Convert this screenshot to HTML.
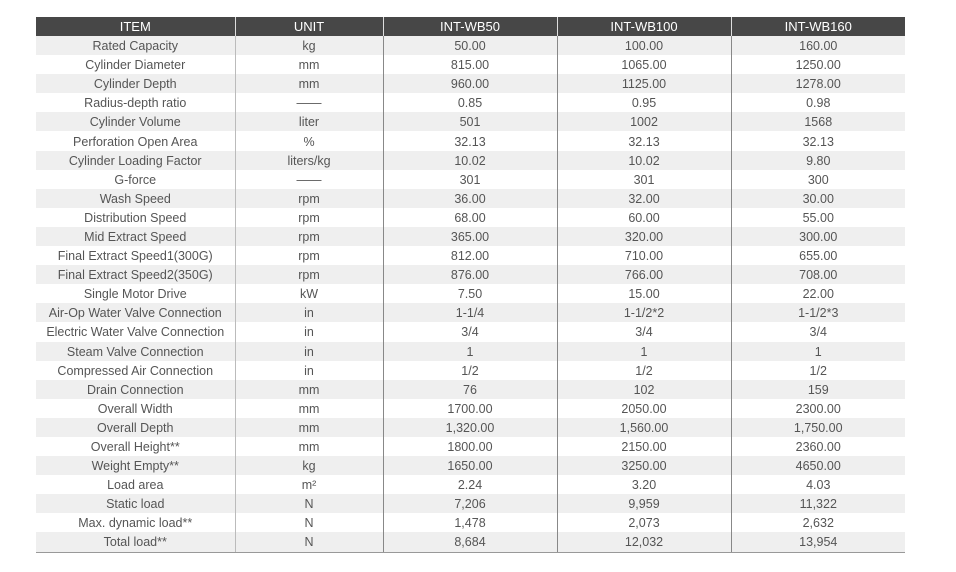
<!DOCTYPE html>
<html><head><meta charset="utf-8"><style>
html,body{margin:0;padding:0;background:#fff;width:956px;height:572px;overflow:hidden}
table{position:absolute;left:36px;top:17px;border-collapse:collapse;table-layout:fixed;width:869px;font-family:"Liberation Sans",sans-serif;font-size:12.5px;color:#555}
td,th{padding:2px 0 0 0;text-align:center;height:17.1px;line-height:17px;white-space:nowrap;border-left:1px solid #888}
td:first-child,th:first-child{border-left:none}
th{background:#474747;color:#fff;font-weight:normal;padding:0;height:19px;line-height:19px;font-size:13px;border-left:1px solid #ddd}
tbody tr:nth-child(odd){background:#efefef}
tbody tr:last-child td{border-bottom:1.5px solid #999}
td:nth-child(2){border-left:1px solid #bbb}
</style></head><body>
<table>
<colgroup><col style="width:199px"><col style="width:148px"><col style="width:174px"><col style="width:174px"><col style="width:174px"></colgroup>
<thead><tr><th>ITEM</th><th>UNIT</th><th>INT-WB50</th><th>INT-WB100</th><th>INT-WB160</th></tr></thead>
<tbody>
<tr><td>Rated Capacity</td><td>kg</td><td>50.00</td><td>100.00</td><td>160.00</td></tr>
<tr><td>Cylinder Diameter</td><td>mm</td><td>815.00</td><td>1065.00</td><td>1250.00</td></tr>
<tr><td>Cylinder Depth</td><td>mm</td><td>960.00</td><td>1125.00</td><td>1278.00</td></tr>
<tr><td>Radius-depth ratio</td><td>——</td><td>0.85</td><td>0.95</td><td>0.98</td></tr>
<tr><td>Cylinder Volume</td><td>liter</td><td>501</td><td>1002</td><td>1568</td></tr>
<tr><td>Perforation Open Area</td><td>%</td><td>32.13</td><td>32.13</td><td>32.13</td></tr>
<tr><td>Cylinder Loading Factor</td><td>liters/kg</td><td>10.02</td><td>10.02</td><td>9.80</td></tr>
<tr><td>G-force</td><td>——</td><td>301</td><td>301</td><td>300</td></tr>
<tr><td>Wash Speed</td><td>rpm</td><td>36.00</td><td>32.00</td><td>30.00</td></tr>
<tr><td>Distribution Speed</td><td>rpm</td><td>68.00</td><td>60.00</td><td>55.00</td></tr>
<tr><td>Mid Extract Speed</td><td>rpm</td><td>365.00</td><td>320.00</td><td>300.00</td></tr>
<tr><td>Final Extract Speed1(300G)</td><td>rpm</td><td>812.00</td><td>710.00</td><td>655.00</td></tr>
<tr><td>Final Extract Speed2(350G)</td><td>rpm</td><td>876.00</td><td>766.00</td><td>708.00</td></tr>
<tr><td>Single Motor Drive</td><td>kW</td><td>7.50</td><td>15.00</td><td>22.00</td></tr>
<tr><td>Air-Op Water Valve Connection</td><td>in</td><td>1-1/4</td><td>1-1/2*2</td><td>1-1/2*3</td></tr>
<tr><td>Electric Water Valve Connection</td><td>in</td><td>3/4</td><td>3/4</td><td>3/4</td></tr>
<tr><td>Steam Valve Connection</td><td>in</td><td>1</td><td>1</td><td>1</td></tr>
<tr><td>Compressed Air Connection</td><td>in</td><td>1/2</td><td>1/2</td><td>1/2</td></tr>
<tr><td>Drain Connection</td><td>mm</td><td>76</td><td>102</td><td>159</td></tr>
<tr><td>Overall Width</td><td>mm</td><td>1700.00</td><td>2050.00</td><td>2300.00</td></tr>
<tr><td>Overall Depth</td><td>mm</td><td>1,320.00</td><td>1,560.00</td><td>1,750.00</td></tr>
<tr><td>Overall Height**</td><td>mm</td><td>1800.00</td><td>2150.00</td><td>2360.00</td></tr>
<tr><td>Weight Empty**</td><td>kg</td><td>1650.00</td><td>3250.00</td><td>4650.00</td></tr>
<tr><td>Load area</td><td>m²</td><td>2.24</td><td>3.20</td><td>4.03</td></tr>
<tr><td>Static load</td><td>N</td><td>7,206</td><td>9,959</td><td>11,322</td></tr>
<tr><td>Max. dynamic load**</td><td>N</td><td>1,478</td><td>2,073</td><td>2,632</td></tr>
<tr><td>Total load**</td><td>N</td><td>8,684</td><td>12,032</td><td>13,954</td></tr>
</tbody></table>
</body></html>
